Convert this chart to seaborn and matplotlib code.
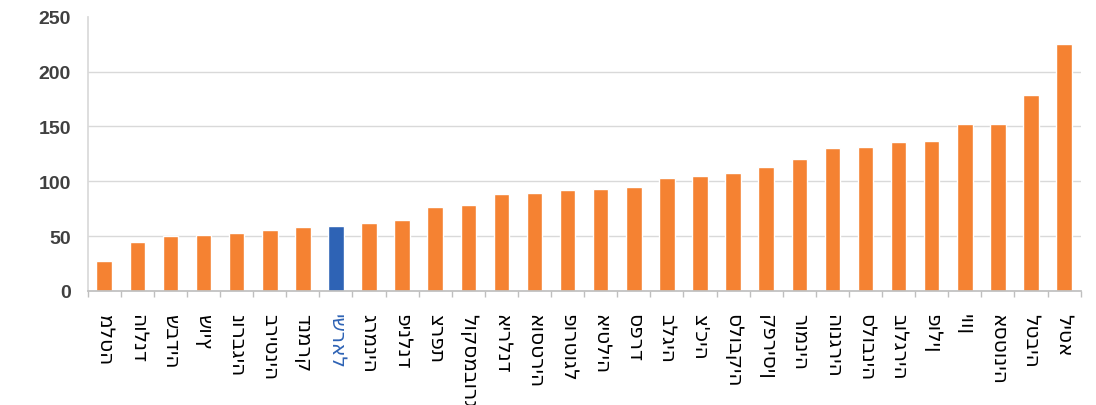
import numpy as np
import pandas as pd
import matplotlib
matplotlib.use("Agg")
import matplotlib.pyplot as plt
import seaborn as sns

# מדינות (משמאל לימין) וערכים
countries = ["מלטה", "הולנד", "שבדיה", "שויץ", "נורבגיה", "בריטניה", "דנמרק",
             "ישראל", "גרמניה", "פינלנד", "צרפת", "לוקסמבורג", "אירלנד",
             "אוסטריה", "פורטוגל", "איטליה", "ספרד", "בלגיה", "צ'כיה",
             "סלובקיה", "קפריסין", "רומניה", "הונגריה", "סלובניה", "בולגריה",
             "פולין", "יוון", "אסטוניה", "לטביה", "ליטא"]
values = [27, 45, 50, 51, 53, 56, 58, 59, 62, 65, 77, 78, 88, 89, 92, 93, 95,
          103, 105, 108, 113, 120, 130, 131, 136, 137, 152, 152, 179, 225]
highlight = "ישראל"
y_ticks = [0, 50, 100, 150, 200, 250]

ORANGE = "#F58232"
BLUE = "#2E63B5"

sns.set_theme(style="white")
plt.rcParams["font.family"] = ["DejaVu Sans"]

df = pd.DataFrame({"country": countries, "value": values})
palette = {c: (BLUE if c == highlight else ORANGE) for c in countries}

fig = plt.figure(figsize=(10.96, 4.06), dpi=100)
ax = fig.add_axes([0.080, 0.281, 0.906, 0.675])

sns.barplot(data=df, x="country", y="value", hue="country", palette=palette,
            legend=False, width=0.47, saturation=1, ax=ax)

ax.set_xlim(-0.5, len(countries) - 0.5)
ax.set_ylim(0, 250)
ax.set_yticks(y_ticks)
ax.set_xlabel(""); ax.set_ylabel("")

# קווי רשת אופקיים (בלי 0 ו-250)
ax.set_axisbelow(True)
ax.grid(axis="y", color="#d9d9d9", linewidth=1)
for v, gl in zip(y_ticks, ax.yaxis.get_gridlines()):
    if v in (0, 250):
        gl.set_visible(False)

for s in ["top", "right"]:
    ax.spines[s].set_visible(False)
ax.spines["left"].set_color("#d9d9d9")
ax.spines["bottom"].set_color("#bfbfbf")

ax.tick_params(axis="y", length=0, pad=12, labelsize=14, labelcolor="#404040")
for t in ax.get_yticklabels():
    t.set_family(["Liberation Sans", "DejaVu Sans"])
    t.set_fontweight("bold")

ax.set_xticks(np.arange(len(countries)))
ax.set_xticklabels(countries, rotation=-90, ha="center", va="top", fontsize=14.5)
ax.set_xticks(np.arange(len(countries) + 1) - 0.5, minor=True)
ax.tick_params(axis="x", which="major", length=0, pad=16)
ax.tick_params(axis="x", which="minor", length=4, color="#bfbfbf", bottom=True)
for t in ax.get_xticklabels():
    t.set_color(BLUE if t.get_text() == highlight else "black")

fig.savefig("out.png", dpi=100)
